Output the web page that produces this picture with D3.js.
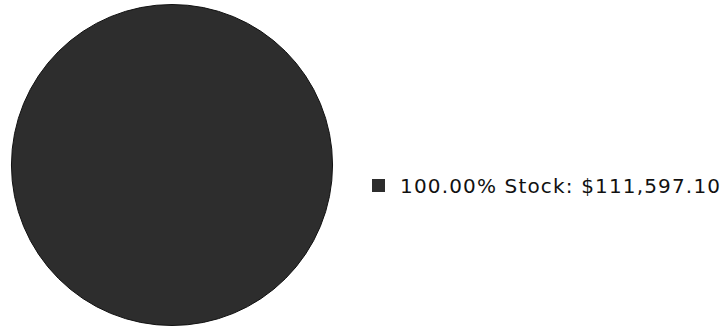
<!DOCTYPE html>
<html><head><meta charset="utf-8">
<script src="https://cdn.jsdelivr.net/npm/d3@7/dist/d3.min.js"></script>
<style>body{margin:0;background:#fff;}svg{display:block;}</style>
</head><body>
<script>
const categories = ["Stock"];
const values = [111597.10];
const colors = ["#2d2d2d"];

const W = 726, H = 330;
const svg = d3.select("body").append("svg").attr("width", W).attr("height", H);
const total = d3.sum(values);
const pie = d3.pie().sort(null).value(d => d)(values);
const arc = d3.arc().innerRadius(0).outerRadius(160.5);
const g = svg.append("g").attr("transform", "translate(172,165)");
g.selectAll("path").data(pie).join("path")
  .attr("d", arc).attr("fill", (d,i) => colors[i])
  .attr("stroke", "#111").attr("stroke-width", 1);

const fmt = d3.format(",.2f");
const leg = svg.append("g").attr("transform", "translate(372,179)");
categories.forEach((c,i) => {
  const row = leg.append("g").attr("transform", `translate(0,${i*24})`);
  row.append("rect").attr("width", 13).attr("height", 13).attr("fill", colors[i]);
  row.append("text").attr("x", 28).attr("y", 14)
    .attr("font-family", "DejaVu Sans").attr("font-size", 20).attr("fill", "#111")
    .attr("textLength", 320).attr("lengthAdjust", "spacing")
    .text(`${(values[i]/total*100).toFixed(2)}% ${c}: $${fmt(values[i])}`);
});
</script>
</body></html>
